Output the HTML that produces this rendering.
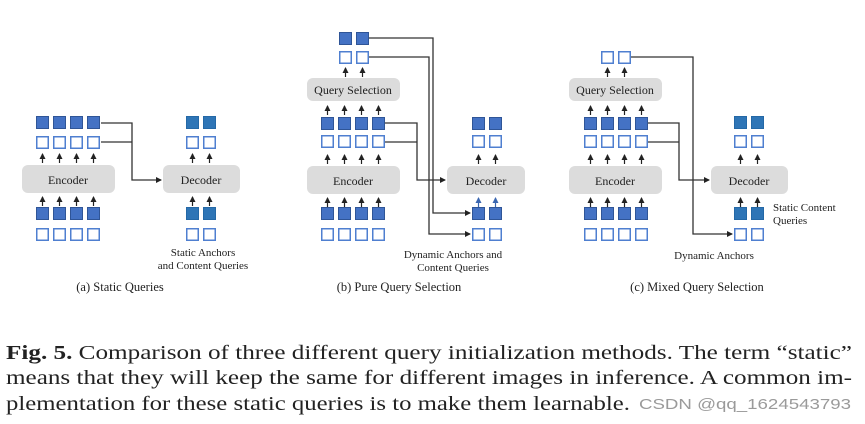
<!DOCTYPE html>
<html><head><meta charset="utf-8"><style>
html,body{margin:0;padding:0;background:#fff;}
svg{display:block;}
text{font-family:"Liberation Serif",serif;fill:#222;}
</style></head><body>
<svg width="865" height="424" viewBox="0 0 865 424" xmlns="http://www.w3.org/2000/svg">
<defs>
<marker id="ah" markerWidth="6" markerHeight="6" refX="5" refY="3" orient="auto" markerUnits="userSpaceOnUse"><path d="M0,0 L6,3 L0,6 z" fill="#222"/></marker>
<marker id="ab" markerWidth="6" markerHeight="6" refX="5" refY="3" orient="auto" markerUnits="userSpaceOnUse"><path d="M0,0 L6,3 L0,6 z" fill="#3a66b0"/></marker>
<g id="f"><rect x="0.5" y="0.5" width="12" height="12" fill="#4472c4" stroke="#2f5597" stroke-width="1"/></g>
<g id="t"><rect x="0.5" y="0.5" width="12" height="12" fill="#2e75b6" stroke="#2468a6" stroke-width="1"/></g>
<g id="o"><rect x="0.75" y="0.75" width="11.5" height="11.5" fill="#fff" stroke="#4f7fd0" stroke-width="1.5"/></g>
<g id="up"><line x1="6.5" y1="12" x2="6.5" y2="3" stroke="#222" stroke-width="1.2" marker-end="url(#ah)"/></g>
<g id="upb"><line x1="6.5" y1="12" x2="6.5" y2="3" stroke="#3a66b0" stroke-width="1.2" marker-end="url(#ab)"/></g>
</defs>
<g fill="none" stroke="#333" stroke-width="1.3">
<!-- a -->
<polyline points="101,123 132,123 132,180 161,180" marker-end="url(#ah)"/>
<polyline points="101,142 132,142"/>
<!-- b -->
<polyline points="369,38 433,38 433,213 470,213" marker-end="url(#ah)"/>
<polyline points="369,57 429,57 429,234 470,234" marker-end="url(#ah)"/>
<polyline points="385,123 417,123 417,180 445,180" marker-end="url(#ah)"/>
<polyline points="385,142 417,142"/>
<!-- c -->
<polyline points="631,57 693,57 693,234 732,234" marker-end="url(#ah)"/>
<polyline points="648,123 679,123 679,180 709,180" marker-end="url(#ah)"/>
<polyline points="648,142 679,142"/>
</g>
<!-- boxes -->
<g fill="#dcdcdc">
<rect x="22" y="165" width="93" height="28" rx="6"/>
<rect x="163" y="165" width="77" height="28" rx="6"/>
<rect x="307" y="78" width="93" height="23" rx="6"/>
<rect x="307" y="166" width="93" height="28" rx="6"/>
<rect x="447" y="166" width="78" height="28" rx="6"/>
<rect x="569" y="78" width="93" height="23" rx="6"/>
<rect x="569" y="166" width="93" height="28" rx="6"/>
<rect x="711" y="166" width="77" height="28" rx="6"/>
</g>
<g font-size="12" text-anchor="middle">
<text x="68" y="184">Encoder</text>
<text x="201" y="184">Decoder</text>
<text x="353" y="94">Query Selection</text>
<text x="353" y="185">Encoder</text>
<text x="486" y="185">Decoder</text>
<text x="615" y="94">Query Selection</text>
<text x="615" y="185">Encoder</text>
<text x="749" y="185">Decoder</text>
</g>
<!-- panel a -->
<g>
<use href="#f" x="36" y="116"/><use href="#f" x="53" y="116"/><use href="#f" x="70" y="116"/><use href="#f" x="87" y="116"/>
<use href="#o" x="36" y="136"/><use href="#o" x="53" y="136"/><use href="#o" x="70" y="136"/><use href="#o" x="87" y="136"/>
<use href="#up" x="36" y="151"/><use href="#up" x="53" y="151"/><use href="#up" x="70" y="151"/><use href="#up" x="87" y="151"/>
<use href="#up" x="36" y="194"/><use href="#up" x="53" y="194"/><use href="#up" x="70" y="194"/><use href="#up" x="87" y="194"/>
<use href="#f" x="36" y="207"/><use href="#f" x="53" y="207"/><use href="#f" x="70" y="207"/><use href="#f" x="87" y="207"/>
<use href="#o" x="36" y="228"/><use href="#o" x="53" y="228"/><use href="#o" x="70" y="228"/><use href="#o" x="87" y="228"/>
<use href="#t" x="186" y="116"/><use href="#t" x="203" y="116"/>
<use href="#o" x="186" y="136"/><use href="#o" x="203" y="136"/>
<use href="#up" x="186" y="151"/><use href="#up" x="203" y="151"/>
<use href="#up" x="186" y="194"/><use href="#up" x="203" y="194"/>
<use href="#t" x="186" y="207"/><use href="#t" x="203" y="207"/>
<use href="#o" x="186" y="228"/><use href="#o" x="203" y="228"/>
</g>
<!-- panel b -->
<g>
<use href="#f" x="339" y="32"/><use href="#f" x="356" y="32"/>
<use href="#o" x="339" y="51"/><use href="#o" x="356" y="51"/>
<use href="#up" x="339" y="65"/><use href="#up" x="356" y="65"/>
<use href="#up" x="321" y="103"/><use href="#up" x="338" y="103"/><use href="#up" x="355" y="103"/><use href="#up" x="372" y="103"/>
<use href="#f" x="321" y="117"/><use href="#f" x="338" y="117"/><use href="#f" x="355" y="117"/><use href="#f" x="372" y="117"/>
<use href="#o" x="321" y="135"/><use href="#o" x="338" y="135"/><use href="#o" x="355" y="135"/><use href="#o" x="372" y="135"/>
<use href="#up" x="321" y="152"/><use href="#up" x="338" y="152"/><use href="#up" x="355" y="152"/><use href="#up" x="372" y="152"/>
<use href="#up" x="321" y="195"/><use href="#up" x="338" y="195"/><use href="#up" x="355" y="195"/><use href="#up" x="372" y="195"/>
<use href="#f" x="321" y="207"/><use href="#f" x="338" y="207"/><use href="#f" x="355" y="207"/><use href="#f" x="372" y="207"/>
<use href="#o" x="321" y="228"/><use href="#o" x="338" y="228"/><use href="#o" x="355" y="228"/><use href="#o" x="372" y="228"/>
<use href="#f" x="472" y="117"/><use href="#f" x="489" y="117"/>
<use href="#o" x="472" y="135"/><use href="#o" x="489" y="135"/>
<use href="#up" x="472" y="152"/><use href="#up" x="489" y="152"/>
<use href="#upb" x="472" y="195"/><use href="#upb" x="489" y="195"/>
<use href="#f" x="472" y="207"/><use href="#f" x="489" y="207"/>
<use href="#o" x="472" y="228"/><use href="#o" x="489" y="228"/>
</g>
<!-- panel c -->
<g>
<use href="#o" x="601" y="51"/><use href="#o" x="618" y="51"/>
<use href="#up" x="601" y="65"/><use href="#up" x="618" y="65"/>
<use href="#up" x="584" y="103"/><use href="#up" x="601" y="103"/><use href="#up" x="618" y="103"/><use href="#up" x="635" y="103"/>
<use href="#f" x="584" y="117"/><use href="#f" x="601" y="117"/><use href="#f" x="618" y="117"/><use href="#f" x="635" y="117"/>
<use href="#o" x="584" y="135"/><use href="#o" x="601" y="135"/><use href="#o" x="618" y="135"/><use href="#o" x="635" y="135"/>
<use href="#up" x="584" y="152"/><use href="#up" x="601" y="152"/><use href="#up" x="618" y="152"/><use href="#up" x="635" y="152"/>
<use href="#up" x="584" y="195"/><use href="#up" x="601" y="195"/><use href="#up" x="618" y="195"/><use href="#up" x="635" y="195"/>
<use href="#f" x="584" y="207"/><use href="#f" x="601" y="207"/><use href="#f" x="618" y="207"/><use href="#f" x="635" y="207"/>
<use href="#o" x="584" y="228"/><use href="#o" x="601" y="228"/><use href="#o" x="618" y="228"/><use href="#o" x="635" y="228"/>
<use href="#t" x="734" y="116"/><use href="#t" x="751" y="116"/>
<use href="#o" x="734" y="135"/><use href="#o" x="751" y="135"/>
<use href="#up" x="734" y="152"/><use href="#up" x="751" y="152"/>
<use href="#up" x="734" y="195"/><use href="#up" x="751" y="195"/>
<use href="#t" x="734" y="207"/><use href="#t" x="751" y="207"/>
<use href="#o" x="734" y="228"/><use href="#o" x="751" y="228"/>
</g>
<!-- labels -->
<g font-size="11">
<text x="203" y="256" text-anchor="middle">Static Anchors</text>
<text x="203" y="269" text-anchor="middle">and Content Queries</text>
<text x="453" y="258" text-anchor="middle">Dynamic Anchors and</text>
<text x="453" y="271" text-anchor="middle">Content Queries</text>
<text x="773" y="211">Static Content</text>
<text x="773" y="224">Queries</text>
<text x="714" y="259" text-anchor="middle">Dynamic Anchors</text>
</g>
<g font-size="12.5" text-anchor="middle">
<text x="120" y="291">(a) Static Queries</text>
<text x="399" y="291">(b) Pure Query Selection</text>
<text x="697" y="291">(c) Mixed Query Selection</text>
</g>
<!-- caption -->
<g font-size="20" fill="#111">
<text x="6" y="359" textLength="846" lengthAdjust="spacingAndGlyphs"><tspan font-weight="bold">Fig. 5.</tspan> Comparison of three different query initialization methods. The term “static”</text>
<text x="6" y="384" textLength="846" lengthAdjust="spacingAndGlyphs">means that they will keep the same for different images in inference. A common im-</text>
<text x="6" y="410" textLength="624" lengthAdjust="spacingAndGlyphs">plementation for these static queries is to make them learnable.</text>
</g>
<text x="639" y="409" font-size="15" textLength="212" lengthAdjust="spacingAndGlyphs" style="font-family:'Liberation Sans',sans-serif;fill:#9a9a9a">CSDN @qq_1624543793</text>
</svg>
</body></html>
